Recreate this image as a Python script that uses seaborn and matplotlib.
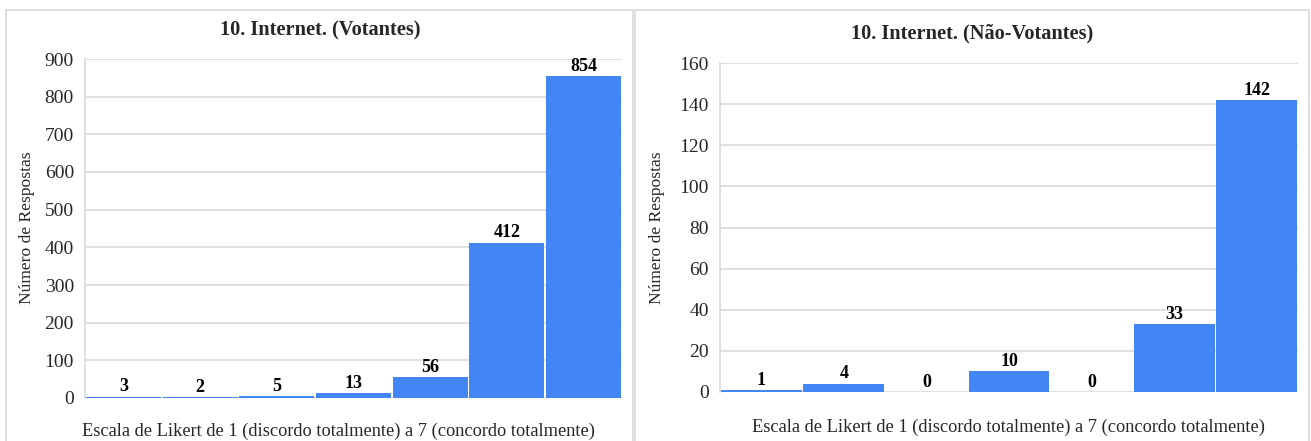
import matplotlib
matplotlib.use("Agg")
import matplotlib.pyplot as plt
import matplotlib.patches as patches
import seaborn as sns
import pandas as pd

# Likert scale answers 1..7 and response counts for each group
categories = [1, 2, 3, 4, 5, 6, 7]
votantes = [3, 2, 5, 13, 56, 412, 854]
nao_votantes = [1, 4, 0, 10, 0, 33, 142]

titles = ["10. Internet. (Votantes)", "10. Internet. (Não-Votantes)"]
xlabel = "Escala de Likert de 1 (discordo totalmente) a 7 (concordo totalmente)"
ylabel = "Número de Respostas"
left_ticks = [0, 100, 200, 300, 400, 500, 600, 700, 800, 900]
right_ticks = [0, 20, 40, 60, 80, 100, 120, 140, 160]

sns.set_theme(style="white")
plt.rcParams["font.family"] = ["Liberation Serif", "DejaVu Serif"]

BAR = "#4285F4"
GRID = "#d9d9d9"
W, H = 1311, 441

fig = plt.figure(figsize=(W / 100, H / 100), dpi=100)

def frac_x(px):
    return px / W

def frac_y(py):
    return 1 - py / H

# panel frames
for x0, x1 in [(6, 633), (635, 1309)]:
    fig.add_artist(patches.Rectangle((frac_x(x0), frac_y(445)), frac_x(x1 - x0), (445 - 10) / H,
                                     transform=fig.transFigure, fill=False,
                                     edgecolor=GRID, linewidth=1.2))

panels = [
    dict(vals=votantes, ticks=left_ticks, x0=85, x1=622, ytop=59, ybot=398,
         title_xy=(320, 30), xl_xy=(338, 431), yl_xy=(27, 228)),
    dict(vals=nao_votantes, ticks=right_ticks, x0=720, x1=1298, ytop=63, ybot=392,
         title_xy=(972, 33), xl_xy=(1008, 427), yl_xy=(657, 228)),
]

for p, title in zip(panels, titles):
    ax = fig.add_axes([frac_x(p["x0"]), frac_y(p["ybot"]),
                       frac_x(p["x1"] - p["x0"]), (p["ybot"] - p["ytop"]) / H])
    df = pd.DataFrame({"escala": categories, "respostas": p["vals"]})
    sns.barplot(data=df, x="escala", y="respostas", ax=ax, color=BAR, saturation=1,
                width=0.978, linewidth=0, zorder=3)
    ax.set_xlim(-0.5, len(categories) - 0.5)
    ax.set_ylim(0, p["ticks"][-1])
    ax.set_yticks(p["ticks"])
    ax.set_yticklabels([str(t) for t in p["ticks"]], fontsize=14)
    ax.set_xticks([])
    ax.set_xlabel("")
    ax.set_ylabel("")
    ax.tick_params(axis="y", length=0, pad=8)
    ax.yaxis.grid(True, color=GRID, linewidth=1.2, zorder=0)
    ax.set_axisbelow(True)
    for side in ["top", "right", "bottom"]:
        ax.spines[side].set_visible(False)
    ax.spines["left"].set_color(GRID)
    ax.spines["left"].set_linewidth(1.2)
    for c in ax.containers:
        ax.bar_label(c, labels=[str(v) for v in p["vals"]], padding=1,
                     fontsize=13, fontweight="bold", color="black")
    fig.text(frac_x(p["title_xy"][0]), frac_y(p["title_xy"][1]), title, ha="center",
             va="center", fontsize=14.7, fontweight="bold")
    fig.text(frac_x(p["xl_xy"][0]), frac_y(p["xl_xy"][1]), xlabel, ha="center",
             va="center", fontsize=13.2)
    fig.text(frac_x(p["yl_xy"][0]), frac_y(p["yl_xy"][1]), ylabel, ha="center",
             va="center", rotation=90, fontsize=12.6)

fig.savefig("out.png", dpi=100, facecolor="white")
